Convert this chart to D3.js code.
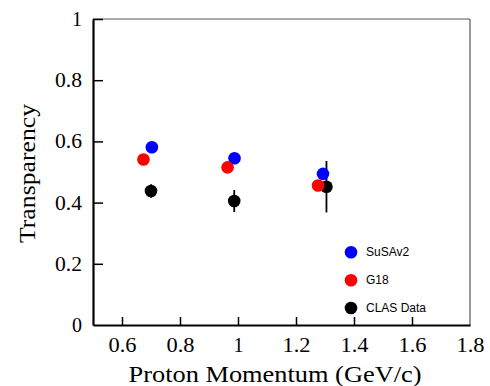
<!DOCTYPE html>
<html><head><meta charset="utf-8">
<script src="https://cdn.jsdelivr.net/npm/d3@7"></script>
<style>body{margin:0;background:#fff}
.serif{font-family:"Liberation Serif","Times New Roman",Times,"DejaVu Serif",serif}
.sans{font-family:"Liberation Sans",Arial,Helvetica,sans-serif}
</style>
</head><body>
<script>
const momentumSusa = [0.703, 0.988, 1.293];
const transSusa = [0.581, 0.545, 0.494];
const momentumG18 = [0.674, 0.964, 1.276];
const transG18 = [0.541, 0.515, 0.456];
const momentumClas = [0.700, 0.987, 1.305];
const transClas = [0.438, 0.405, 0.452];
const errClas = [0.022, 0.036, 0.084];
const xTicks = [0.6, 0.8, 1.0, 1.2, 1.4, 1.6, 1.8];
const yTicks = [0, 0.2, 0.4, 0.6, 0.8, 1];
const legendLabels = ["SuSAv2", "G18", "CLAS Data"];
const legendColors = ["#0000ff", "#ff0000", "#000000"];

const W = 490, H = 386;
const m = {l: 93, t: 19, r: 20, b: 61};
const svg = d3.select("body").append("svg").attr("width", W).attr("height", H);
const x = d3.scaleLinear().domain([0.5, 1.8]).range([m.l, W - m.r]);
const y = d3.scaleLinear().domain([0, 1]).range([H - m.b, m.t]);

// frame top/right
svg.append("line").attr("x1", x(0.5)).attr("x2", x(1.8)).attr("y1", y(1)).attr("y2", y(1)).attr("stroke", "#555").attr("stroke-width", 1.2);
svg.append("line").attr("x1", x(1.8)).attr("x2", x(1.8)).attr("y1", y(1)).attr("y2", y(0)).attr("stroke", "#555").attr("stroke-width", 1.2);

function fmt(d) { return d === 0 ? "0" : d === 1 ? "1" : d3.format(".1f")(d); }

// axes
const xAxis = d3.axisBottom(x).tickValues(xTicks).tickSizeInner(-8).tickSizeOuter(0).tickPadding(13).tickFormat(fmt);
const gx = svg.append("g").attr("transform", `translate(0,${y(0)})`).call(xAxis);
gx.attr("font-family", null).attr("font-size", null);
gx.select(".domain").attr("stroke", "#000").attr("stroke-width", 2.2);
gx.selectAll(".tick line").attr("stroke-width", 1.5).filter(d => d === 1.8).remove();
gx.selectAll("text").attr("class", "serif").style("font-size", "20px").attr("fill", "#000")
  .each(function(d) { if (fmt(d).length > 1) d3.select(this).attr("textLength", 28).attr("lengthAdjust", "spacingAndGlyphs"); });

const yAxis = d3.axisLeft(y).tickValues(yTicks).tickSizeInner(-10).tickSizeOuter(0).tickPadding(11).tickFormat(fmt);
const gy = svg.append("g").attr("transform", `translate(${x(0.5)},0)`).call(yAxis);
gy.attr("font-family", null).attr("font-size", null);
gy.select(".domain").attr("stroke", "#000").attr("stroke-width", 2.2);
gy.selectAll(".tick line").attr("stroke-width", 1.5).filter(d => d === 0).remove();
gy.selectAll("text").attr("class", "serif").style("font-size", "20px").attr("fill", "#000")
  .each(function(d) { if (fmt(d).length > 1) d3.select(this).attr("textLength", 27).attr("lengthAdjust", "spacingAndGlyphs"); });

// axis titles
svg.append("text").attr("class", "serif").attr("x", 275).attr("y", 381.5).attr("text-anchor", "middle")
  .style("font-size", "24px").attr("textLength", 293).attr("lengthAdjust", "spacingAndGlyphs").text("Proton Momentum (GeV/c)");
svg.append("text").attr("class", "serif").attr("transform", `translate(35,173.5) rotate(-90)`).attr("text-anchor", "middle")
  .style("font-size", "24px").attr("textLength", 139).attr("lengthAdjust", "spacingAndGlyphs").text("Transparency");

// error bars
const clas = momentumClas.map((v, i) => ({x: v, y: transClas[i], e: errClas[i]}));
svg.selectAll(".err").data(clas).enter().append("line")
  .attr("x1", d => x(d.x)).attr("x2", d => x(d.x)).attr("y1", d => y(d.y - d.e)).attr("y2", d => y(d.y + d.e))
  .attr("stroke", "#000").attr("stroke-width", 1.8);

const r = 6.3;
function pts(xs, ys, c) {
  svg.append("g").selectAll("circle").data(xs.map((v, i) => [v, ys[i]])).enter().append("circle")
    .attr("cx", d => x(d[0])).attr("cy", d => y(d[1])).attr("r", r).attr("fill", c);
}
pts(momentumClas, transClas, legendColors[2]);
pts(momentumSusa, transSusa, legendColors[0]);
pts(momentumG18, transG18, legendColors[1]);

// legend
const ly = [252.3, 280.3, 308];
legendLabels.forEach((t, i) => {
  svg.append("circle").attr("cx", 351).attr("cy", ly[i]).attr("r", r).attr("fill", legendColors[i]);
  svg.append("text").attr("class", "sans").attr("x", 366).attr("y", ly[i] + 4)
    .style("font-size", "12px").text(t);
});
</script>
</body></html>
